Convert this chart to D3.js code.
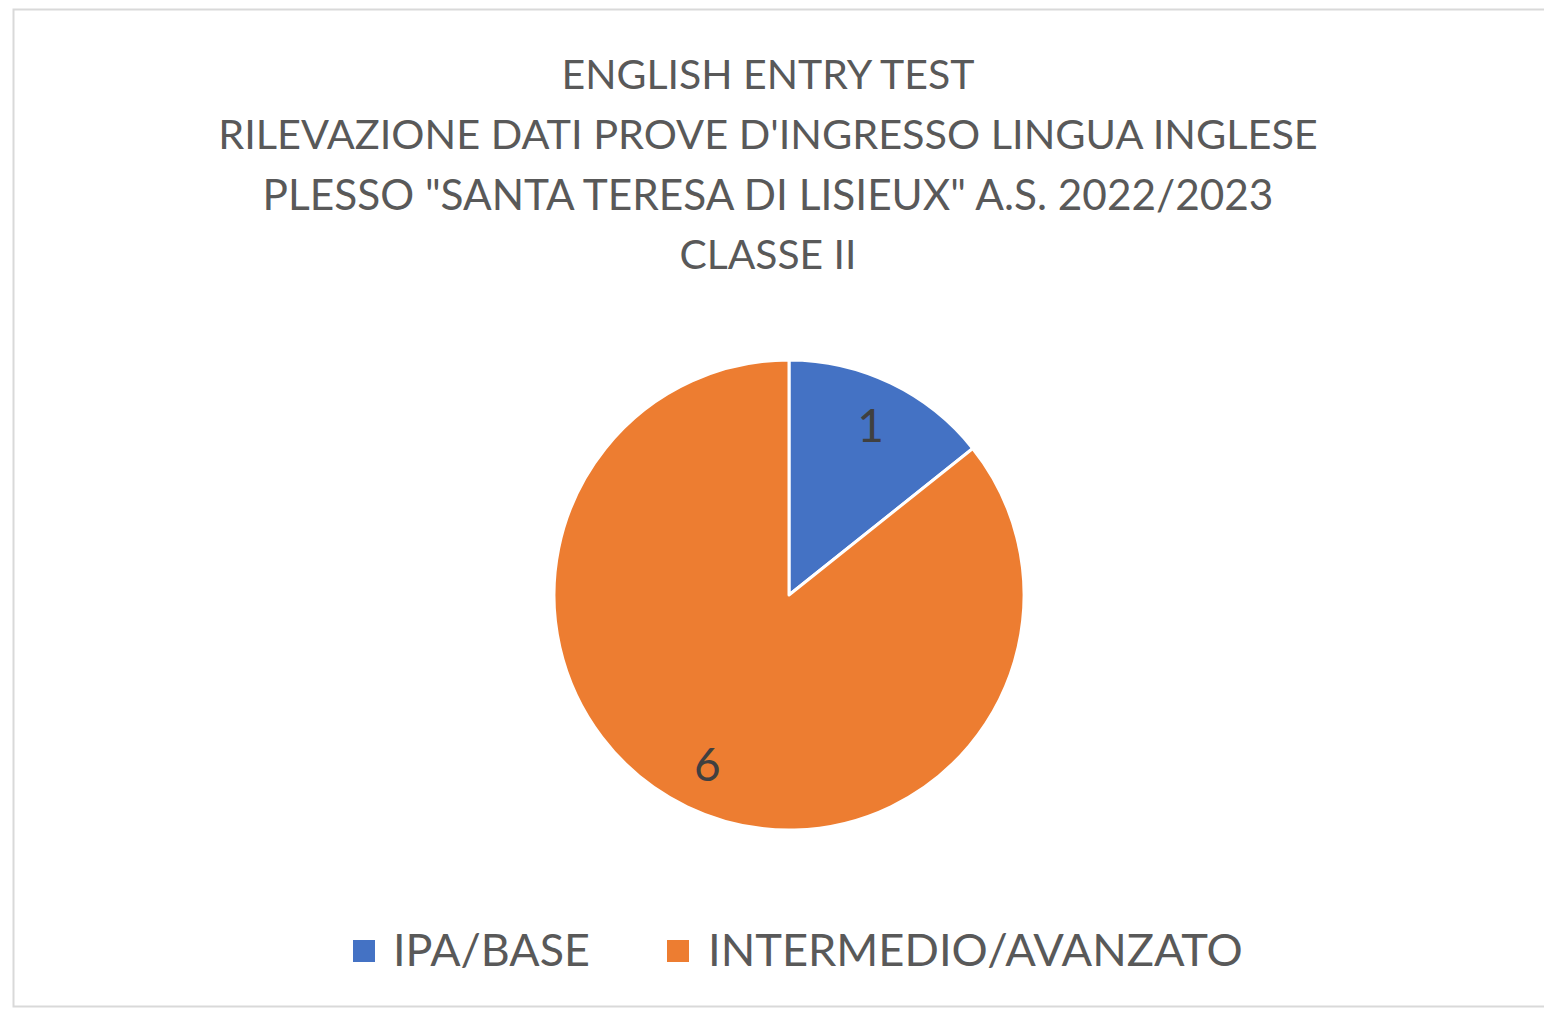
<!DOCTYPE html>
<html>
<head>
<meta charset="utf-8">
<script src="https://cdn.jsdelivr.net/npm/d3@7/dist/d3.min.js"></script>
<style>
  html, body { margin: 0; padding: 0; background: #ffffff; }
  svg { display: block; }
  text { font-family: Lato, "Open Sans", sans-serif; }
</style>
</head>
<body>
<svg id="chart" width="1544" height="1009"></svg>
<script>
// Chart content
const titleLines = [
  "ENGLISH ENTRY TEST",
  "RILEVAZIONE DATI PROVE D'INGRESSO LINGUA INGLESE",
  "PLESSO \"SANTA TERESA DI LISIEUX\" A.S. 2022/2023",
  "CLASSE II"
];
const categories = ["IPA/BASE", "INTERMEDIO/AVANZATO"];
const values = [1, 6];
const colors = ["#4472C4", "#ED7D31"];

const W = 1544, H = 1009;
const svg = d3.select("#chart");

// Chart area frame
svg.append("rect")
  .attr("x", 13.5).attr("y", 9.5)
  .attr("width", 1600).attr("height", 997)
  .attr("fill", "#ffffff")
  .attr("stroke", "#d9d9d9")
  .attr("stroke-width", 2);

// Draws a text element and scales its font size so it spans the given width
function fitText(g, str, x, y, targetWidth, anchor, color) {
  const t = g.append("text")
    .attr("x", x).attr("y", y)
    .attr("text-anchor", anchor)
    .attr("fill", color)
    .style("font-size", "40px")
    .text(str);
  const w = t.node().getComputedTextLength();
  t.style("font-size", (40 * targetWidth / w) + "px");
  return t;
}

// Title block
const titleG = svg.append("g");
const titleBaselines = [89, 149, 210, 269];
const titleWidths = [413, 1100, 1011, 177];
titleLines.forEach((s, i) => {
  fitText(titleG, s, 768, titleBaselines[i], titleWidths[i], "middle", "#595959");
});

// Pie
const cx = 789, cy = 595, R = 235;
const pie = d3.pie().sort(null).value(d => d)(values);
const arc = d3.arc().innerRadius(0).outerRadius(R);
const labelArc = d3.arc().innerRadius(R * 0.8).outerRadius(R * 0.8);

const pieG = svg.append("g").attr("transform", `translate(${cx},${cy})`);
pieG.selectAll("path")
  .data(pie)
  .join("path")
  .attr("d", arc)
  .attr("fill", (d, i) => colors[i])
  .attr("stroke", "#ffffff")
  .attr("stroke-width", 3)
  .attr("stroke-linejoin", "round");

pieG.selectAll("text.val")
  .data(pie)
  .join("text")
  .attr("class", "val")
  .attr("transform", d => `translate(${labelArc.centroid(d)})`)
  .attr("text-anchor", "middle")
  .attr("dy", "0.36em")
  .attr("fill", "#404040")
  .style("font-size", "46px")
  .text(d => d.data);

// Legend
const legendG = svg.append("g");
const legendItems = [
  { sx: 353, tx: 393, tw: 197 },
  { sx: 667, tx: 708, tw: 535 }
];
categories.forEach((c, i) => {
  legendG.append("rect")
    .attr("x", legendItems[i].sx).attr("y", 940)
    .attr("width", 22).attr("height", 22)
    .attr("fill", colors[i]);
  fitText(legendG, c, legendItems[i].tx, 966, legendItems[i].tw, "start", "#595959");
});
</script>
</body>
</html>
